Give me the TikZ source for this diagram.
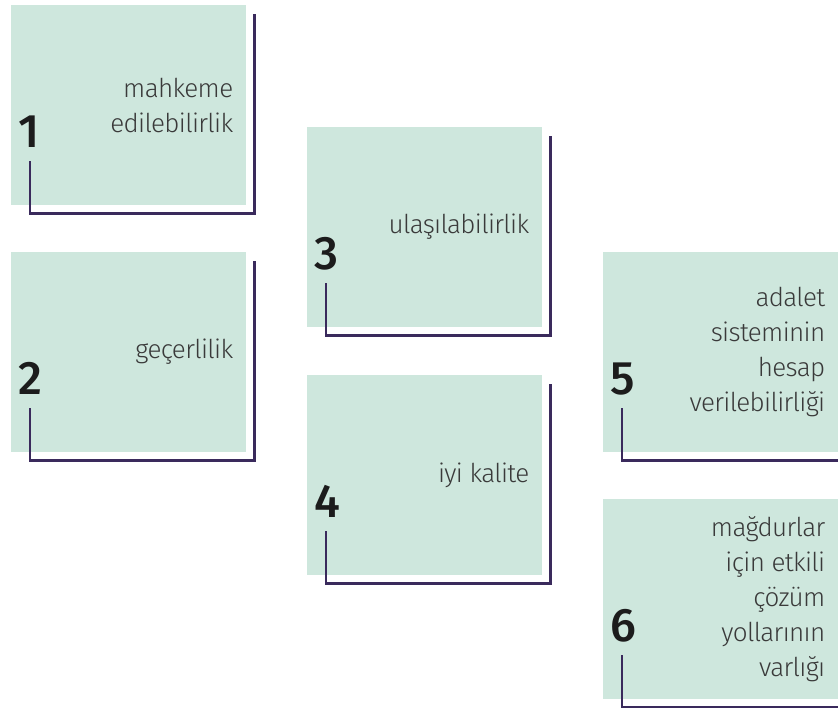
\documentclass[tikz,border=0pt]{standalone}
\usepackage{fontspec}
\setmainfont{Fira Sans}[UprightFont={* Light}, BoldFont={* Medium}]
\newfontfamily\labelfont{Fira Sans Light}[LetterSpace=-2.5]
\usetikzlibrary{calc}

\definecolor{mint}{HTML}{CEE7DD}
\definecolor{frame}{HTML}{3A2A5C}
\definecolor{txt}{HTML}{3A3A3A}
\definecolor{numc}{HTML}{1C1C1C}

\tikzset{
  panel/.style={fill=mint, draw=none, minimum width=235pt, minimum height=200pt,
    inner sep=0pt, anchor=north west},
  label/.style={align=right, anchor=east, inner sep=0pt, text=txt,
    font=\labelfont\fontsize{26}{35}\selectfont},
  numeral/.style={anchor=base west, inner sep=0pt, text=numc,
    font=\bfseries\fontsize{47}{47}\selectfont},
  bracket/.style={draw=frame, line width=2.6pt}
}

% one item: name, left, top, number, text
\newcommand\courtitem[5]{%
  \node[panel] (#1) at (#2,#3) {};
  \node[numeral] (#1n) at ($(#1.north west)+(7,142)$) {#4};
  \node[label] (#1t) at ($(#1.north east)+(-13,100)$) {#5};
  \coordinate (#1a) at ($(#1.south west)+(19,-44)$);
  \coordinate (#1b) at ($(#1.south west)+(19,8)$);
  \coordinate (#1c) at ($(#1.south east)+(8,8)$);
  \coordinate (#1d) at ($(#1.north east)+(8,9)$);
  \draw[bracket] (#1a) -- (#1b) -- (#1c) -- (#1d);
}

\begin{document}
\begin{tikzpicture}[x=1pt, y=-1pt]
  \useasboundingbox (0,0) rectangle (838,707);
  \clip (0,0) rectangle (838,707);
  \courtitem{p1}{11}{5}{1}{mahkeme\\edilebilirlik}
  \courtitem{p2}{11}{252}{2}{geçerlilik}
  \courtitem{p3}{307}{127}{3}{ulaşılabilirlik}
  \courtitem{p4}{307}{375}{4}{iyi kalite}
  \courtitem{p5}{603}{252}{5}{adalet\\sisteminin\\hesap\\verilebilirliği}
  \courtitem{p6}{603}{499}{6}{mağdurlar\\için etkili\\çözüm\\yollarının\\varlığı}
\end{tikzpicture}
\end{document}
